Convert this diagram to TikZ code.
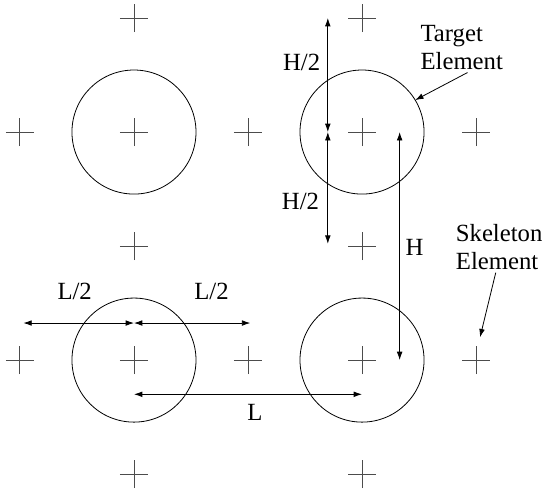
\documentclass[tikz,border=0pt]{standalone}
\usepackage{fontspec}
\setmainfont{Liberation Serif}
\usetikzlibrary{arrows.meta}

\begin{document}
\begin{tikzpicture}[x=3cm,y=3cm,line width=0.6pt,>={Latex[length=2.2mm,width=1.5mm]},
  cruz/.style={gray!60!black,line width=0.7pt},
  objetivo/.style={circle,draw,minimum size=3.264cm,inner sep=0pt,outer sep=0pt},
  etiq/.style={font=\fontsize{18.5}{21}\selectfont,inner sep=0pt}]
  \useasboundingbox (-0.175,0.158) rectangle (4.596,-4.132);
  % rejilla
  \foreach \i in {0,...,4} \foreach \j in {0,...,4} \coordinate (p\i\j) at (\i,-\j);
  % elementos esqueleto
  \foreach \i/\j in {1/0,3/0,0/1,1/1,2/1,3/1,4/1,1/2,3/2,0/3,1/3,2/3,3/3,4/3,1/4,3/4}
    \draw[cruz,shift={(p\i\j)}] (-0.123,0)--(0.123,0) (0,-0.123)--(0,0.123);
  % elementos objetivo
  \node[objetivo] (c11) at (p11) {};
  \node[objetivo] (c31) at (p31) {};
  \node[objetivo] (c13) at (p13) {};
  \node[objetivo] (c33) at (p33) {};
  % cotas verticales
  \coordinate (h0) at (2.70,0);
  \coordinate (h1) at (2.70,-1);
  \coordinate (h2) at (2.70,-1.98);
  \draw[<->] (h0)--(h1);
  \draw[<->] (h1)--(h2);
  \node[etiq] (lh2a) at (2.47,-0.386) {H/2};
  \node[etiq] (lh2b) at (2.46,-1.61) {H/2};
  \coordinate (v1) at (3.33,-1);
  \coordinate (v3) at (3.33,-3);
  \draw[<->] (v1)--(v3);
  \node[etiq] (lh) at (3.46,-2.01) {H};
  % cotas horizontales
  \coordinate (m0) at (0.03,-2.675);
  \coordinate (m1) at (1,-2.675);
  \coordinate (m2) at (2.02,-2.675);
  \draw[<->] (m0)--(m1);
  \draw[<->] (m1)--(m2);
  \node[etiq] (ll2a) at (0.48,-2.40) {L/2};
  \node[etiq] (ll2b) at (1.68,-2.40) {L/2};
  \coordinate (n1) at (1,-3.30);
  \coordinate (n3) at (3,-3.30);
  \draw[<->] (n1)--(n3);
  \node[etiq] (ll) at (2.06,-3.46) {L};
  % rotulos
  \node[etiq,align=left,anchor=west] (target) at (3.51,-0.26) {Target\\Element};
  \draw[->] (target.south) ++(0.05,-0.02) -- (c31.31);
  \node[etiq,align=left,anchor=west] (skel) at (3.82,-2.01) {Skeleton\\Element};
  \coordinate (sk) at (4.035,-2.80);
  \draw[->] (skel.south) ++(-0.03,-0.02) -- (sk);
\end{tikzpicture}
\end{document}
